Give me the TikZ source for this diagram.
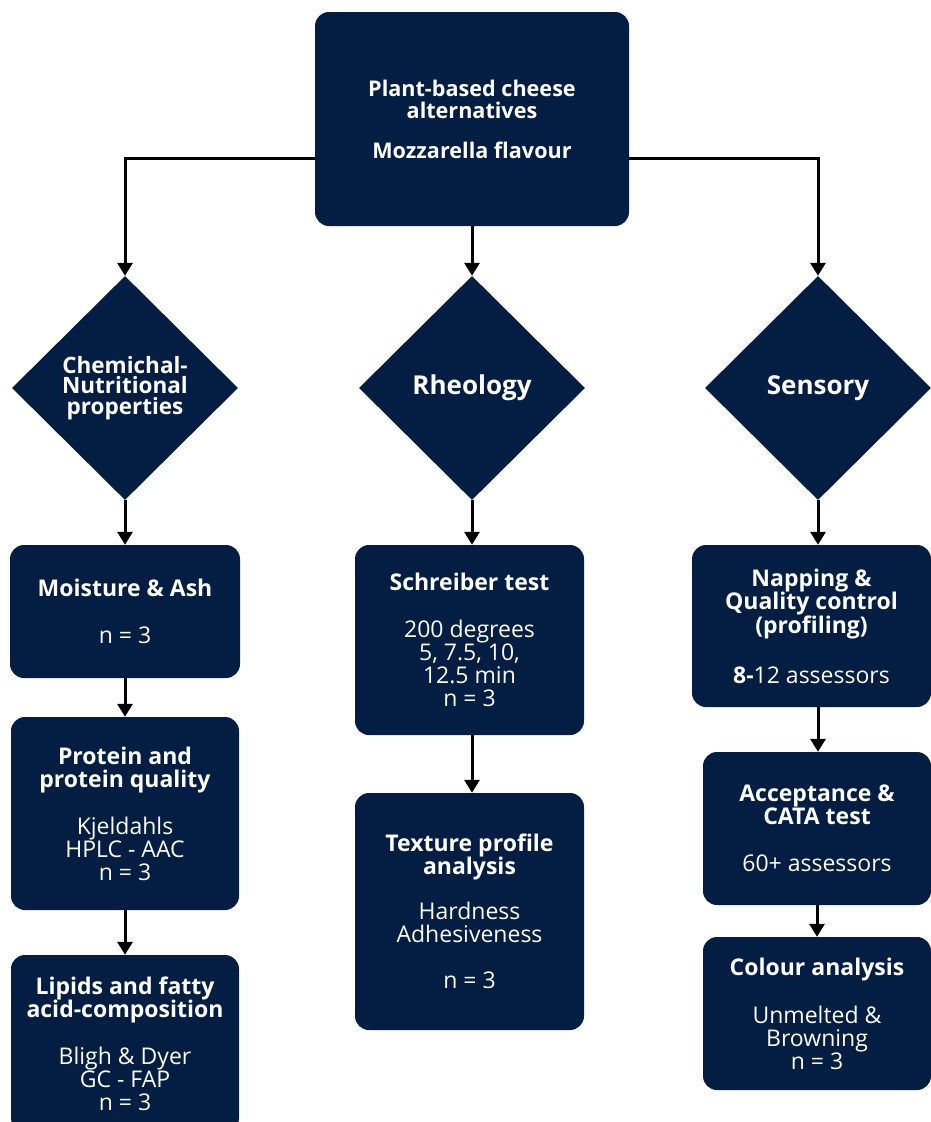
\documentclass[tikz,border=0pt]{standalone}
\usepackage{fontspec}
\setmainfont{Open Sans}
\usetikzlibrary{shapes.geometric,arrows.meta}
\definecolor{navy}{RGB}{3,30,66}

\begin{document}
\begin{tikzpicture}[x=1pt,y=-1pt,
    box/.style={fill=navy, rounded corners=14pt, text=white, align=center, inner sep=0pt,
        font=\fontsize{23}{23}\selectfont},
    dia/.style={diamond, fill=navy, text=white, align=center, inner sep=0pt,
        minimum width=226pt, minimum height=224pt, font=\bfseries\fontsize{22.5}{20.5}\selectfont},
    arr/.style={line width=3pt, -{Triangle[width=15pt,length=13pt]}}]
    % Fix the page size
    \useasboundingbox (0,0) rectangle (931,1122);
    \clip (0,0) rectangle (931,1122);
    % Top box
    \node[box, minimum width=314pt, minimum height=214pt, font=\fontsize{21.6}{22}\selectfont] (top) at (472,119)
        {\textbf{Plant-based cheese}\\\textbf{alternatives}\\[18pt]\textbf{Mozzarella flavour}};
    % Diamonds
    \node[dia] (chem) at (125,388) {Chemichal-\\Nutritional\\properties};
    \node[dia, font=\bfseries\fontsize{26}{26}\selectfont] (rheo) at (472,388) {Rheology};
    \node[dia, font=\bfseries\fontsize{26}{26}\selectfont] (sens) at (818,388) {Sensory};
    % Left column
    \node[box, minimum width=230pt, minimum height=133pt] (moist) at (125,611.5)
        {\textbf{Moisture \& Ash}\\[24pt]n = 3};
    \node[box, minimum width=228pt, minimum height=193pt] (protein) at (125,813.5)
        {\textbf{Protein and}\\\textbf{protein quality}\\[24pt]Kjeldahls\\HPLC - AAC\\n = 3};
    \node[box, minimum width=228pt, minimum height=177pt] (lipids) at (125,1043.5)
        {\textbf{Lipids and fatty}\\\textbf{acid-composition}\\[24pt]Bligh \& Dyer\\GC - FAP\\n = 3};
    % Middle column
    \node[box, minimum width=229pt, minimum height=190pt] (schreib) at (469.5,640)
        {\textbf{Schreiber test}\\[24pt]200 degrees\\5, 7.5, 10,\\12.5 min\\n = 3};
    \node[box, minimum width=229pt, minimum height=237pt] (texture) at (469.5,911.5)
        {\textbf{Texture profile}\\\textbf{analysis}\\[22pt]Hardness\\Adhesiveness\\[23pt]n = 3};
    % Right column
    \node[box, minimum width=239pt, minimum height=162pt] (napping) at (811.5,626)
        {\textbf{Napping \&}\\\textbf{Quality control}\\\textbf{(profiling)}\\[27pt]\textbf{8-}12 assessors};
    \node[box, minimum width=228pt, minimum height=153pt] (accept) at (817,828.5)
        {\textbf{Acceptance \&}\\\textbf{CATA test}\\[24pt]60+ assessors};
    \node[box, minimum width=228pt, minimum height=153pt] (colour) at (817,1013.5)
        {\textbf{Colour analysis}\\[25pt]Unmelted \&\\Browning\\n = 3};
    % Connectors from the top box
    \draw[arr] ([yshift=-39pt]top.west) -| (chem.north);
    \draw[arr] ([yshift=-39pt]top.east) -| (sens.north);
    \draw[arr] (top.south) -- (rheo.north);
    % Connectors down the columns
    \draw[arr] (chem.south) -- (moist.north -| chem.south);
    \draw[arr] (moist.south) -- (protein.north);
    \draw[arr] (protein.south) -- (lipids.north);
    \draw[arr] (rheo.south) -- (schreib.north -| rheo.south);
    \draw[arr] (schreib.south -| rheo.south) -- (texture.north -| rheo.south);
    \draw[arr] (sens.south) -- (napping.north -| sens.south);
    \draw[arr] (napping.south -| sens.south) -- (accept.north -| sens.south);
    \draw[arr] (accept.south) -- (colour.north);
\end{tikzpicture}
\end{document}
